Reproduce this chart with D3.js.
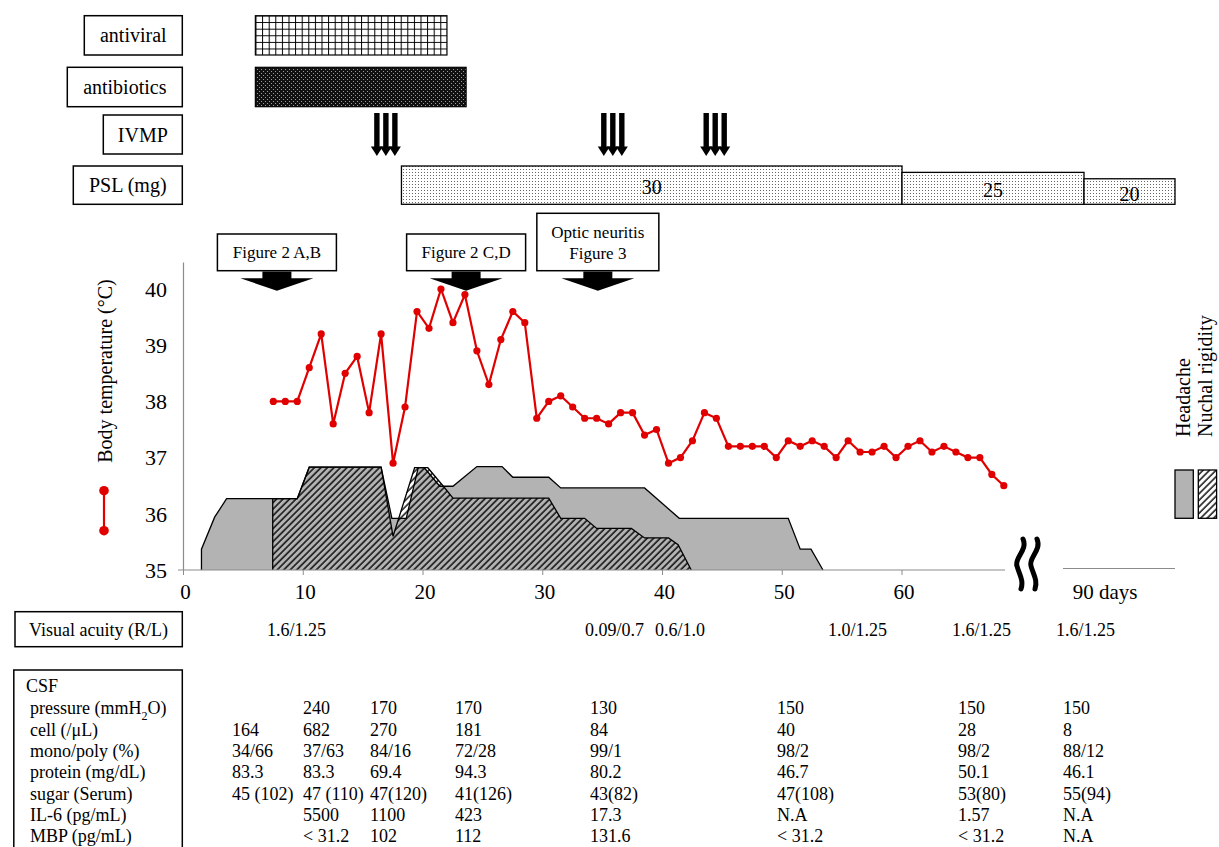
<!DOCTYPE html>
<html><head><meta charset="utf-8">
<script src="https://cdn.jsdelivr.net/npm/d3@7"></script>
<style>
body{margin:0;background:#fff}
svg{display:block}
text{font-family:"Liberation Serif","Times New Roman",serif;fill:#000}
</style>
</head><body>
<svg id="c" width="1219" height="847"></svg>
<script>
// ---------------- DATA ----------------
const tempStartDay = 7.5;
const temperature = [38.0,38.0,38.0,38.6,39.2,37.6,38.5,38.8,37.8,39.2,36.9,37.9,39.6,39.3,40.0,39.4,39.9,38.9,38.3,39.1,39.6,39.4,
  37.7,38.0,38.1,37.9,37.7,37.7,37.6,37.8,37.8,37.4,37.5,36.9,37.0,37.3,37.8,37.7,37.2,37.2,37.2,37.2,37.0,37.3,37.2,37.3,37.2,
  37.0,37.3,37.1,37.1,37.2,37.0,37.2,37.3,37.1,37.2,37.1,37.0,37.0,36.7,36.5];
const tempDays = d3.range(temperature.length).map(i => tempStartDay + i);

// symptom severity outlines [day, level on temperature axis]
const headache = [[1.5,35],[1.5,35.37],[2.6,35.94],[3.6,36.27],[9.5,36.27],[10.5,36.83],[16.5,36.83],[17.4,35.92],[18.6,35.92],
  [19.6,36.82],[20.1,36.82],[21.4,36.49],[22.5,36.49],[24.5,36.84],[26.6,36.84],[27.5,36.65],[30.5,36.65],[31.5,36.46],
  [38.5,36.46],[41.4,35.92],[50.5,35.92],[51.5,35.37],[52.4,35.37],[53.4,35]];
const nuchal = [[7.45,35],[7.45,36.27],[9.5,36.27],[10.5,36.83],[16.5,36.83],[17.5,35.6],[19.3,36.82],[20.4,36.82],[21.7,36.49],
  [22.5,36.28],[30.5,36.28],[31.5,35.92],[33.5,35.92],[34.5,35.74],[37.4,35.74],[38.5,35.57],[40.5,35.57],[41.3,35.45],[42.4,35]];

const treatments = [
  {name:"antiviral", start:6, end:22, pattern:"grid"},
  {name:"antibiotics", start:6, end:23.6, pattern:"dark"}
];
const ivmpDays = [16.9, 35.85, 44.4];
const psl = [{start:18.2,end:60,dose:30},{start:60,end:87,dose:25},{start:87,end:100,dose:20}];
const callouts = [{day:7.8, lines:["Figure 2 A,B"]},{day:23.6, lines:["Figure 2 C,D"]},{day:34.6, lines:["Optic neuritis","Figure 3"]}];
const xTicks = [0,10,20,30,40,50,60];
const yTicks = [35,36,37,38,39,40];

const visualAcuity = ["1.6/1.25","0.09/0.7","0.6/1.0","1.0/1.25","1.6/1.25","1.6/1.25"];
const csfRows = ["pressure","cell (/μL)","mono/poly (%)","protein (mg/dL)","sugar (Serum)","IL-6 (pg/mL)","MBP (pg/mL)"];
const csfPressure = ["","240","170","170","130","150","150","150"];
const csfCell = ["164","682","270","181","84","40","28","8"];
const csfMonoPoly = ["34/66","37/63","84/16","72/28","99/1","98/2","98/2","88/12"];
const csfProtein = ["83.3","83.3","69.4","94.3","80.2","46.7","50.1","46.1"];
const csfSugar = ["45 (102)","47 (110)","47(120)","41(126)","43(82)","47(108)","53(80)","55(94)"];
const csfIL6 = ["","5500","1100","423","17.3","N.A","1.57","N.A"];
const csfMBP = ["","< 31.2","102","112","131.6","< 31.2","< 31.2","N.A"];

// ---------------- LAYOUT ----------------
const vaX = [267, 585, 655, 828, 952, 1056];
const csfX = [232, 303, 370, 455, 590, 777, 958, 1063];

const svg = d3.select("#c");
const x = d3.scaleLinear().domain([0,68.6,84,100]).range([183.5,1005,1063,1175]);
const y = d3.scaleLinear().domain([35,40]).range([570,289]);
const pslH = d3.scaleLinear().domain([0,30]).range([0,38.3]);
const RED = "#e00000", GRAY = "#b3b3b3";

// patterns
const defs = svg.append("defs");
const pg = defs.append("pattern").attr("id","grid").attr("patternUnits","userSpaceOnUse").attr("width",6.6).attr("height",6.6).attr("x",255.5).attr("y",15.5);
pg.append("rect").attr("width",6.6).attr("height",6.6).attr("fill","#fff");
pg.append("path").attr("d","M0,0.5H6.6M0.5,0V6.6").attr("stroke","#000").attr("stroke-width",1);
const pd = defs.append("pattern").attr("id","dark").attr("patternUnits","userSpaceOnUse").attr("width",4).attr("height",4);
pd.append("rect").attr("width",4).attr("height",4).attr("fill","#111");
pd.append("rect").attr("x",1).attr("y",1).attr("width",1).attr("height",1).attr("fill","#999");
pd.append("rect").attr("x",3).attr("y",3).attr("width",1).attr("height",1).attr("fill","#999");
const pl = defs.append("pattern").attr("id","light").attr("patternUnits","userSpaceOnUse").attr("width",3).attr("height",3);
pl.append("rect").attr("width",3).attr("height",3).attr("fill","#fff");
pl.append("rect").attr("x",1).attr("y",1).attr("width",1).attr("height",1).attr("fill","#666");
const ph = defs.append("pattern").attr("id","hatch").attr("patternUnits","userSpaceOnUse").attr("width",4.6).attr("height",4.6).attr("patternTransform","rotate(45)");
ph.append("line").attr("x1",1).attr("y1",0).attr("x2",1).attr("y2",4.6).attr("stroke","#000").attr("stroke-width",1.4);

// ---------------- TOP LABEL BOXES ----------------
const labelBoxes = [
  {t:"antiviral", x0:84.3, y0:15.7, y1:55},
  {t:"antibiotics", x0:67.3, y0:67.3, y1:106.7},
  {t:"IVMP", x0:103.3, y0:115, y1:154},
  {t:"PSL (mg)", x0:73.3, y0:166, y1:204.3}
];
labelBoxes.forEach(b => {
  svg.append("rect").attr("x",b.x0).attr("y",b.y0).attr("width",182.3-b.x0).attr("height",b.y1-b.y0)
    .attr("fill","#fff").attr("stroke","#000").attr("stroke-width",1.5);
  svg.append("text").attr("x",(b.x0+182.3)/2).attr("y",(b.y0+b.y1)/2).attr("dy","0.35em")
    .attr("text-anchor","middle").attr("font-size",20).text(b.t);
});

// treatment bars
const barY = [[15.7,55],[67.3,106.7]];
treatments.forEach((t,i) => {
  svg.append("rect").attr("x",x(t.start)).attr("y",barY[i][0]).attr("width",x(t.end)-x(t.start)).attr("height",barY[i][1]-barY[i][0])
    .attr("fill",`url(#${t.pattern})`).attr("stroke","#000").attr("stroke-width",1.2);
});

// IVMP arrows
ivmpDays.forEach(d => {
  [-9,0,9].forEach(o => {
    const cx = x(d)+o;
    svg.append("rect").attr("x",cx-2.7).attr("y",113).attr("width",5.4).attr("height",34).attr("fill","#000");
    svg.append("path").attr("d",`M${cx-6},146.5L${cx+6},146.5L${cx},156Z`).attr("fill","#000");
  });
});

// PSL bars
psl.forEach(p => {
  const h = pslH(p.dose);
  svg.append("rect").attr("x",x(p.start)).attr("y",204.3-h).attr("width",x(p.end)-x(p.start)).attr("height",h)
    .attr("fill","url(#light)").attr("stroke","#000").attr("stroke-width",1.3);
  svg.append("text").attr("x",(x(p.start)+x(p.end))/2).attr("y",204.3-h/2+2).attr("dy","0.35em")
    .attr("text-anchor","middle").attr("font-size",20).text(p.dose);
});

// ---------------- CALLOUTS ----------------
callouts.forEach(c => {
  const cx = x(c.day);
  const top = c.lines.length > 1 ? 213.3 : 234;
  const w = c.lines.length > 1 ? 122 : 119;
  svg.append("rect").attr("x",cx-w/2).attr("y",top).attr("width",w).attr("height",270.7-top)
    .attr("fill","#fff").attr("stroke","#000").attr("stroke-width",1.5);
  if (c.lines.length > 1) {
    c.lines.forEach((l,i) => svg.append("text").attr("x",cx).attr("y",232+i*21.5).attr("dy","0.35em")
      .attr("text-anchor","middle").attr("font-size",17).text(l));
  } else {
    svg.append("text").attr("x",cx).attr("y",252.5).attr("dy","0.35em").attr("text-anchor","middle").attr("font-size",17).text(c.lines[0]);
  }
  svg.append("path").attr("d",`M${cx-14.5},271.5V278.3H${cx-36.5}L${cx},290.7L${cx+36.5},278.3H${cx+14.5}V271.5Z`).attr("fill","#000");
});

// ---------------- SYMPTOM AREAS ----------------
const area = d3.area().x(d => x(d[0])).y0(y(35)).y1(d => y(d[1]));
const line = d3.line().x(d => x(d[0])).y(d => y(d[1]));
svg.append("path").attr("d",area(headache)).attr("fill",GRAY);
svg.append("path").attr("d",line(headache)).attr("fill","none").attr("stroke","#000").attr("stroke-width",1.3);
svg.append("path").attr("d",area(nuchal)).attr("fill","url(#hatch)");
svg.append("path").attr("d",line(nuchal)).attr("fill","none").attr("stroke","#000").attr("stroke-width",1.3);

// ---------------- AXES ----------------
const AX = "#8c8c8c";
svg.append("line").attr("x1",x(0)).attr("x2",x(0)).attr("y1",y(40.47)).attr("y2",y(35)).attr("stroke",AX).attr("stroke-width",1.2);
svg.append("line").attr("x1",178).attr("x2",x(68.6)).attr("y1",y(35)).attr("y2",y(35)).attr("stroke",AX).attr("stroke-width",1.2);
svg.append("line").attr("x1",x(84)).attr("x2",x(100)).attr("y1",568.5).attr("y2",568.5).attr("stroke",AX).attr("stroke-width",1.2);
xTicks.forEach(t => {
  svg.append("line").attr("x1",x(t)).attr("x2",x(t)).attr("y1",570).attr("y2",575).attr("stroke",AX).attr("stroke-width",1);
  svg.append("text").attr("x",x(t)+2).attr("y",592).attr("dy","0.35em").attr("text-anchor","middle").attr("font-size",21).text(t);
});
svg.append("text").attr("x",x(90)).attr("y",592).attr("dy","0.35em").attr("text-anchor","middle").attr("font-size",21).text("90 days");
yTicks.forEach(t => {
  svg.append("text").attr("x",167).attr("y",y(t)).attr("dy","0.35em").attr("text-anchor","end").attr("font-size",22).text(t);
});
svg.append("text").attr("transform","translate(105,371) rotate(-90)").attr("dy","0.35em").attr("text-anchor","middle")
  .attr("font-size",20).text("Body temperature (°C)");

// break symbol
[1021, 1035].forEach(bx => {
  svg.append("path").attr("d",`M${bx+2},539 C${bx+7},550 ${bx-7},558 ${bx-4},566 C${bx-2},574 ${bx+3},580 ${bx},589`)
    .attr("fill","none").attr("stroke","#000").attr("stroke-width",5).attr("stroke-linecap","round");
});

// temperature line
const tl = d3.line().x((d,i) => x(tempDays[i])).y(d => y(d));
svg.append("path").attr("d",tl(temperature)).attr("fill","none").attr("stroke",RED).attr("stroke-width",2.2);
svg.selectAll("circle.t").data(temperature).join("circle").attr("class","t")
  .attr("cx",(d,i) => x(tempDays[i])).attr("cy",d => y(d)).attr("r",3.6).attr("fill",RED);

// temperature legend
svg.append("line").attr("x1",104).attr("x2",104).attr("y1",490.7).attr("y2",530.7).attr("stroke",RED).attr("stroke-width",2.2);
[490.7,530.7].forEach(cy => svg.append("circle").attr("cx",104).attr("cy",cy).attr("r",4.8).attr("fill",RED));

// symptom legend
svg.append("text").attr("transform","translate(1190,437) rotate(-90)").attr("font-size",20).text("Headache");
svg.append("text").attr("transform","translate(1212,437) rotate(-90)").attr("font-size",20).text("Nuchal rigidity");
svg.append("rect").attr("x",1175).attr("y",470).attr("width",18.3).attr("height",48.3).attr("fill",GRAY).attr("stroke","#000").attr("stroke-width",1.3);
svg.append("rect").attr("x",1198.3).attr("y",470).attr("width",18.3).attr("height",48.3).attr("fill","#fff").attr("stroke","none");
svg.append("rect").attr("x",1198.3).attr("y",470).attr("width",18.3).attr("height",48.3).attr("fill","url(#hatch)").attr("stroke","#000").attr("stroke-width",1.3);

// ---------------- VISUAL ACUITY ----------------
svg.append("rect").attr("x",15).attr("y",611.7).attr("width",167.3).attr("height",35).attr("fill","#fff").attr("stroke","#000").attr("stroke-width",1.5);
svg.append("text").attr("x",98.5).attr("y",629.5).attr("dy","0.35em").attr("text-anchor","middle").attr("font-size",18).text("Visual acuity (R/L)");
visualAcuity.forEach((v,i) => svg.append("text").attr("x",vaX[i]).attr("y",629.5).attr("dy","0.35em").attr("font-size",18).text(v));

// ---------------- CSF TABLE ----------------
svg.append("rect").attr("x",13.8).attr("y",670).attr("width",168.5).attr("height",190).attr("fill","#fff").attr("stroke","#000").attr("stroke-width",1.5);
svg.append("text").attr("x",26).attr("y",686).attr("dy","0.35em").attr("font-size",18).text("CSF");
const rowY = i => 708 + i*21.3;
const pt = svg.append("text").attr("x",30).attr("y",rowY(0)).attr("dy","0.35em").attr("font-size",18);
pt.append("tspan").text("pressure (mmH");
pt.append("tspan").attr("font-size",12).attr("dy","0.45em").text("2");
pt.append("tspan").attr("dy","-0.3em").text("O)");
csfRows.slice(1).forEach((r,i) => svg.append("text").attr("x",30).attr("y",rowY(i+1)).attr("dy","0.35em").attr("font-size",18).text(r));
[csfPressure,csfCell,csfMonoPoly,csfProtein,csfSugar,csfIL6,csfMBP].forEach((row,ri) => {
  row.forEach((v,ci) => { if (v) svg.append("text").attr("x",csfX[ci]).attr("y",rowY(ri)).attr("dy","0.35em").attr("font-size",18).text(v); });
});
</script>
</body></html>
